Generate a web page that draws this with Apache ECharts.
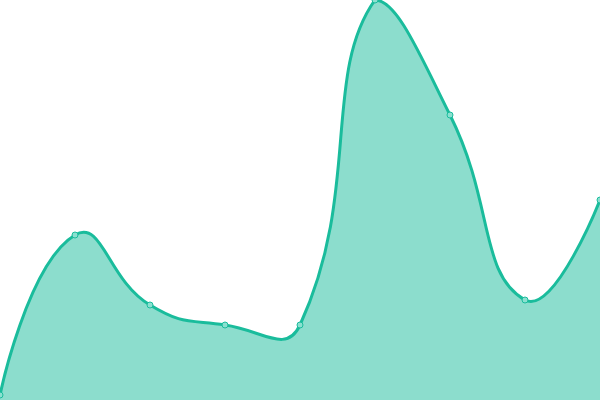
<!DOCTYPE html>
<html>
<head>
<meta charset="utf-8">
<script src="https://cdn.jsdelivr.net/npm/echarts@6/dist/echarts.min.js"></script>
<style>
  html, body { margin: 0; padding: 0; background: #fff; }
  #main { width: 600px; height: 400px; }
</style>
</head>
<body>
<div id="main"></div>
<script>
// chart data
var categories = ['A', 'B', 'C', 'D', 'E', 'F', 'G', 'H', 'I'];
var values = [1, 33, 19, 15, 15, 80, 57, 20, 40];

var SMOOTH = 0.5;
var lineColor = '#1abc9c';

// old style bezier smoothing: control points only kept inside the points' bounding box
function smoothPath(pts) {
    var minX = Infinity, minY = Infinity, maxX = -Infinity, maxY = -Infinity;
    pts.forEach(function (p) {
        minX = Math.min(minX, p[0]); maxX = Math.max(maxX, p[0]);
        minY = Math.min(minY, p[1]); maxY = Math.max(maxY, p[1]);
    });
    var clamp = function (c) {
        return [Math.min(Math.max(c[0], minX), maxX), Math.min(Math.max(c[1], minY), maxY)];
    };

    var d = 'M' + pts[0][0] + ' ' + pts[0][1];
    var cp0 = pts[0].slice();
    for (var i = 1; i < pts.length; i++) {
        var p = pts[i], prev = pts[i - 1], next = pts[i + 1];
        var cp1, nextCp0;
        if (!next) {
            cp1 = p.slice();
            nextCp0 = p.slice();
        } else {
            var vx = next[0] - prev[0], vy = next[1] - prev[1];
            var lenPrev = Math.sqrt(Math.pow(p[0] - prev[0], 2) + Math.pow(p[1] - prev[1], 2));
            var lenNext = Math.sqrt(Math.pow(next[0] - p[0], 2) + Math.pow(next[1] - p[1], 2));
            var ratio = lenNext / (lenNext + lenPrev);
            cp1 = [p[0] - vx * SMOOTH * (1 - ratio), p[1] - vy * SMOOTH * (1 - ratio)];
            nextCp0 = [p[0] + vx * SMOOTH * ratio, p[1] + vy * SMOOTH * ratio];
        }
        cp0 = clamp(cp0);
        cp1 = clamp(cp1);
        d += ' C' + cp0[0] + ' ' + cp0[1] + ' ' + cp1[0] + ' ' + cp1[1] + ' ' + p[0] + ' ' + p[1];
        cp0 = nextCp0;
    }
    return d;
}

var chart = echarts.init(document.getElementById('main'));

chart.setOption({
    animation: false,
    grid: { left: 0, right: 0, top: 0, bottom: 0 },
    xAxis: {
        type: 'category',
        data: categories,
        boundaryGap: false,
        show: false
    },
    yAxis: {
        type: 'value',
        min: 0,
        max: 80,
        show: false
    },
    series: [{
        type: 'custom',
        data: categories.map(function (c, i) { return [i, values[i]]; }),
        renderItem: function (params, api) {
            if (params.dataIndex !== 0) return null;
            var pts = values.map(function (v, i) { return api.coord([i, v]); });
            var base = api.coord([0, 0])[1];
            var line = smoothPath(pts);
            var area = line + ' L' + pts[pts.length - 1][0] + ' ' + base +
                ' L' + pts[0][0] + ' ' + base + ' Z';
            return {
                type: 'group',
                children: [{
                    type: 'path',
                    shape: { pathData: area },
                    style: { fill: 'rgba(26,188,156,0.5)', stroke: null }
                }, {
                    type: 'path',
                    shape: { pathData: line },
                    style: { fill: null, stroke: lineColor, lineWidth: 3 }
                }]
            };
        }
    }, {
        type: 'scatter',
        data: categories.map(function (c, i) { return [i, values[i]]; }),
        symbol: 'circle',
        symbolSize: 6,
        z: 3,
        itemStyle: { color: '#8be0d0', borderColor: lineColor, borderWidth: 1, opacity: 1 }
    }]
});
</script>
</body>
</html>
